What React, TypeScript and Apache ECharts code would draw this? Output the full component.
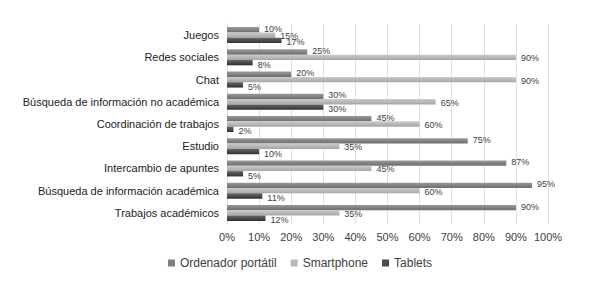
import React, { useEffect, useRef } from "react";
import * as echarts from "echarts";

const categories = [
  "Juegos",
  "Redes sociales",
  "Chat",
  "Búsqueda de información no académica",
  "Coordinación de trabajos",
  "Estudio",
  "Intercambio de apuntes",
  "Búsqueda de información académica",
  "Trabajos académicos",
];
const ordenador = [10, 25, 20, 30, 45, 75, 87, 95, 90];
const smartphone = [15, 90, 90, 65, 60, 35, 45, 60, 35];
const tablets = [17, 8, 5, 30, 2, 10, 5, 11, 12];
const seriesNames = ["Ordenador portátil", "Smartphone", "Tablets"];

const grad = (a: string, b: string) =>
  new echarts.graphic.LinearGradient(0, 0, 0, 1, [
    { offset: 0, color: a },
    { offset: 1, color: b },
  ]);

export default function App() {
  const ref = useRef<HTMLDivElement>(null);
  useEffect(() => {
    if (!ref.current) return;
    const chart = echarts.init(ref.current, null, { renderer: "svg" });
    const font = "'Liberation Sans', Arial, sans-serif";
    const mk = (name: string, data: number[], c1: string, c2: string, dy: number) => ({
      name,
      type: "bar",
      data,
      barGap: "0%",
      barCategoryGap: "28%",
      itemStyle: { color: grad(c1, c2) },
      label: {
        show: true,
        position: "right",
        formatter: "{c}%",
        fontFamily: font,
        fontSize: 9,
        color: "#404040",
        distance: 5,
        offset: [0, dy],
      },
    });
    chart.setOption({
      animation: false,
      textStyle: { fontFamily: font },
      grid: { left: 227, right: 52, top: 24, bottom: 63, containLabel: false },
      legend: {
        top: 252,
        left: "center",
        itemWidth: 7,
        itemHeight: 7,
        itemGap: 14,
        icon: "rect",
        textStyle: { fontFamily: font, fontSize: 12, color: "#404040" },
        data: [
          { name: seriesNames[0], itemStyle: { color: "#808080" } },
          { name: seriesNames[1], itemStyle: { color: "#b8b8b8" } },
          { name: seriesNames[2], itemStyle: { color: "#4a4a4a" } },
        ],
      },
      xAxis: {
        type: "value",
        min: 0,
        max: 100,
        interval: 10,
        axisLabel: {
          formatter: "{value}%",
          fontFamily: font,
          fontSize: 11,
          color: "#404040",
          margin: 7,
        },
        axisLine: { show: false },
        axisTick: { show: false },
        splitLine: { show: true, lineStyle: { color: "#dde1ea", width: 1 } },
      },
      yAxis: {
        type: "category",
        data: categories,
        inverse: true,
        axisLabel: {
          fontFamily: font,
          fontSize: 11,
          color: "#222",
          margin: 8,
        },
        axisLine: { show: true, lineStyle: { color: "#dde1ea" } },
        axisTick: { show: false },
      },
      series: [
        mk(seriesNames[0], ordenador, "#9a9a9a", "#6c6c6c", -1),
        mk(seriesNames[1], smartphone, "#cbcbcb", "#a6a6a6", 1),
        mk(seriesNames[2], tablets, "#686868", "#303030", 2),
      ],
    });
    return () => chart.dispose();
  }, []);
  return <div ref={ref} style={{ width: 600, height: 287, margin: -8 }} />;
}
